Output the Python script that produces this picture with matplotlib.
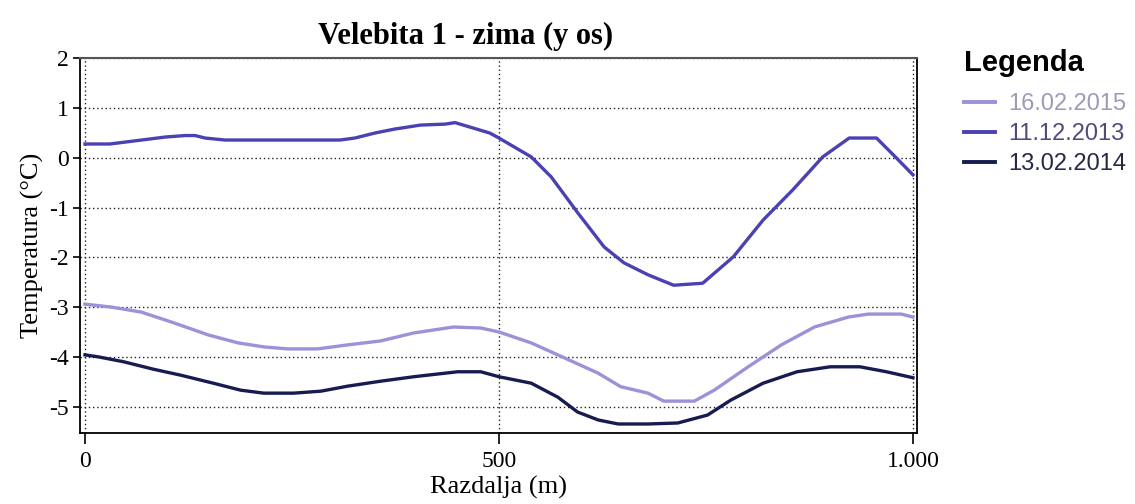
import numpy as np
import matplotlib
matplotlib.use("Agg")
import matplotlib.pyplot as plt
from matplotlib.ticker import FuncFormatter

plt.rcParams["axes.unicode_minus"] = False

# Distance along the profile (m) and temperatures (degC)
x_2015 = [0, 32, 68, 108, 149, 185, 216, 245, 281, 317, 357, 397, 445, 478, 500,
          539, 579, 620, 647, 680, 699, 736, 760, 801, 841, 881, 922, 946, 986, 1000]
t_2015 = [-2.94, -3.0, -3.1, -3.32, -3.56, -3.72, -3.8, -3.84, -3.84, -3.76, -3.68,
          -3.52, -3.40, -3.42, -3.50, -3.72, -4.02, -4.33, -4.6, -4.73, -4.89, -4.89,
          -4.67, -4.2, -3.76, -3.4, -3.2, -3.14, -3.14, -3.2]

x_2013 = [0, 30, 54, 78, 97, 121, 133, 145, 169, 308, 326, 350, 374, 405, 435, 447,
          465, 489, 500, 539, 563, 595, 627, 651, 680, 711, 746, 783, 819, 855, 891,
          923, 956, 980, 1000]
t_2013 = [0.28, 0.28, 0.33, 0.38, 0.42, 0.45, 0.45, 0.40, 0.36, 0.36, 0.40, 0.50,
          0.58, 0.66, 0.68, 0.71, 0.62, 0.50, 0.40, 0.02, -0.38, -1.1, -1.79, -2.11,
          -2.35, -2.56, -2.52, -1.99, -1.25, -0.64, 0.02, 0.40, 0.40, 0.0, -0.34]

x_2014 = [0, 16, 47, 83, 116, 155, 188, 216, 252, 285, 317, 357, 397, 450, 478, 500,
          539, 571, 595, 620, 644, 680, 716, 752, 780, 819, 860, 900, 936, 968, 1000]
t_2014 = [-3.96, -4.0, -4.1, -4.25, -4.37, -4.53, -4.67, -4.73, -4.73, -4.69, -4.59,
          -4.49, -4.4, -4.3, -4.3, -4.4, -4.53, -4.81, -5.11, -5.27, -5.35, -5.35,
          -5.33, -5.17, -4.87, -4.53, -4.3, -4.2, -4.2, -4.3, -4.42]

labels = ["16.02.2015", "11.12.2013", "13.02.2014"]
colors = ["#9b92d8", "#4a41b2", "#161c50"]
text_colors = ["#9e9ab8", "#4f4c7a", "#262a48"]

serif = "Liberation Serif"

fig = plt.figure(figsize=(11.35, 5.04), dpi=100)
ax = fig.add_axes([0.0705, 0.141, 0.7375, 0.744])

ax.plot(x_2015, t_2015, color=colors[0], lw=2.4, label=labels[0])
ax.plot(x_2013, t_2013, color=colors[1], lw=2.4, label=labels[1])
ax.plot(x_2014, t_2014, color=colors[2], lw=2.4, label=labels[2])

ax.set_xlim(-6, 1005)
ax.set_ylim(-5.53, 2.01)
ax.set_xticks([0, 500, 1000])
ax.set_yticks(range(-5, 3))
ax.xaxis.set_major_formatter(FuncFormatter(lambda v, p: f"{int(v):,}".replace(",", ".")))

ax.grid(True, color="#222222", linestyle=(0, (1, 2)), linewidth=1)
for s in ["left", "bottom", "right"]:
    ax.spines[s].set_color("black")
    ax.spines[s].set_linewidth(1.3)
ax.spines["top"].set_color("#555555")
ax.spines["top"].set_linewidth(1.5)

ax.tick_params(axis="both", direction="out", colors="black", labelsize=17, width=1.2)
ax.tick_params(axis="x", length=8, pad=5)
ax.tick_params(axis="y", length=5, pad=3)
for lab in ax.get_xticklabels() + ax.get_yticklabels():
    lab.set_family(serif)

ax.set_title("Velebita 1 - zima (y os)", family=serif, fontweight="bold", fontsize=22,
             pad=10, x=0.46)
ax.set_xlabel("Razdalja (m)", family=serif, fontsize=19, labelpad=3)
ax.set_ylabel("Temperatura (°C)", family=serif, fontsize=19, labelpad=4)

leg = ax.legend(title="Legenda", loc="upper left", bbox_to_anchor=(1.045, 1.05),
                frameon=False, alignment="left", handlelength=1.3, handletextpad=0.55,
                labelspacing=0.33, borderaxespad=0,
                prop={"family": "Liberation Sans", "size": 17},
                title_fontproperties={"family": "Liberation Sans", "weight": "bold", "size": 21},
                labelcolor=text_colors)
leg._legend_box.sep = 12
for h in leg.legend_handles:
    h.set_linewidth(2.8)

fig.savefig("out.png", dpi=100)
